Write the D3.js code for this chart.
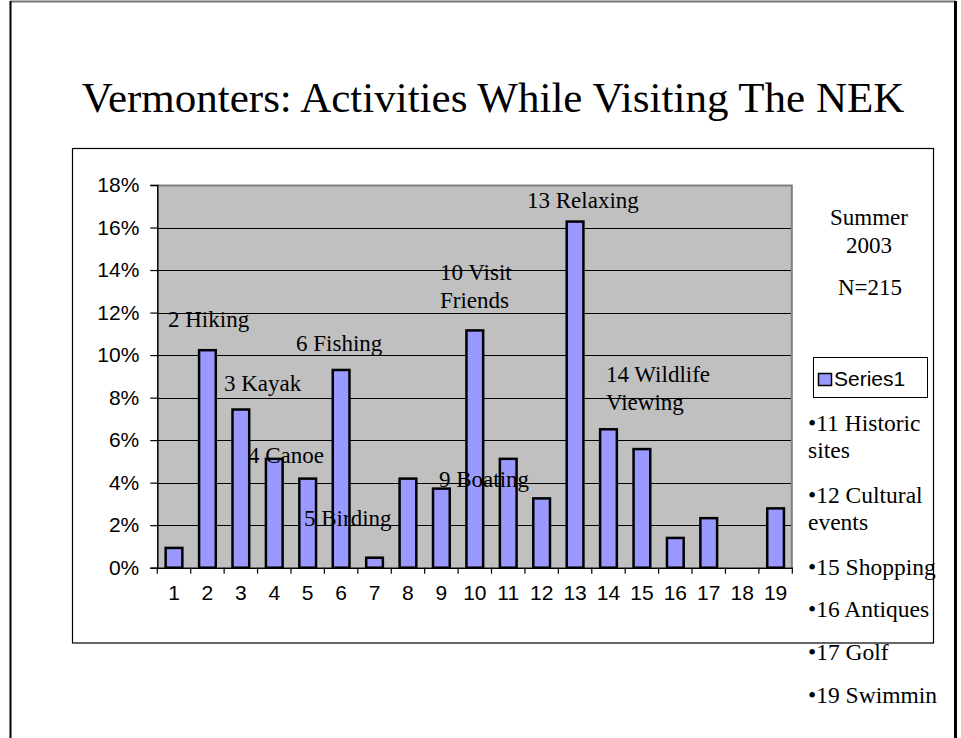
<!DOCTYPE html>
<html>
<head>
<meta charset="utf-8">
<script src="https://cdn.jsdelivr.net/npm/d3@7"></script>
<style>
  html, body { margin: 0; padding: 0; background: #ffffff; }
  svg { display: block; }
</style>
</head>
<body>
<svg id="chart" width="961" height="738"></svg>
<script>
// ---------------- DATA ----------------
const categories = ["1","2","3","4","5","6","7","8","9","10","11","12","13","14","15","16","17","18","19"];
const values = [0.93, 10.23, 7.44, 5.12, 4.19, 9.30, 0.47, 4.19, 3.72, 11.16, 5.12, 3.26, 16.28, 6.51, 5.58, 1.40, 2.33, 0, 2.79];
const yTickValues = [0, 2, 4, 6, 8, 10, 12, 14, 16, 18];
const seriesName = "Series1";
const titleText = "Vermonters: Activities While Visiting The NEK";
const annotationTexts = [["2 Hiking"], ["3 Kayak"], ["4 Canoe"], ["5 Birding"], ["6 Fishing"], ["9 Boating"], ["10 Visit", "Friends"], ["13 Relaxing"], ["14 Wildlife", "Viewing"]];
const noteTexts = ["Summer", "2003", "N=215"];
const sideListTexts = [["•11 Historic", "sites"], ["•12 Cultural", "events"], ["•15 Shopping"], ["•16 Antiques"], ["•17 Golf"], ["•19 Swimmin"]];

// ---------------- LAYOUT ----------------
const plot = { left: 157.3, right: 792.3, top: 185, bottom: 567.7 };
const annotationPos = [[168, 327], [224, 391], [248, 463], [304, 526], [296, 351], [439, 487], [440, 280], [527, 208], [606, 382]];
const notePos = [[869, 225], [869, 253], [870, 295]];
const sideListPos = [[808, 431], [808, 503], [808, 575], [808, 617], [808, 660], [808, 703]];
const serif = "'Liberation Serif', 'Times New Roman', serif";
const sans = "'Liberation Sans', Arial, sans-serif";

const svg = d3.select("#chart");

// outer slide border
svg.append("line").attr("x1", 10).attr("x2", 956).attr("y1", 1.5).attr("y2", 1.5).attr("stroke", "#777").attr("stroke-width", 2);
svg.append("line").attr("x1", 10.5).attr("x2", 10.5).attr("y1", 1).attr("y2", 738).attr("stroke", "#000").attr("stroke-width", 2);
svg.append("line").attr("x1", 955.5).attr("x2", 955.5).attr("y1", 1).attr("y2", 738).attr("stroke", "#000").attr("stroke-width", 3);

// title
svg.append("text").attr("x", 493).attr("y", 112).attr("text-anchor", "middle")
  .attr("font-family", serif).attr("font-size", 43).attr("fill", "#000").text(titleText);

// chart frame
svg.append("rect").attr("x", 72.5).attr("y", 148.5).attr("width", 861).attr("height", 494.5)
  .attr("fill", "#fff").attr("stroke", "#000").attr("stroke-width", 1.2);

// scales
const x = d3.scaleBand().domain(categories).range([plot.left, plot.right]).paddingInner(0.5).paddingOuter(0.25);
const y = d3.scaleLinear().domain([0, 18]).range([plot.bottom, plot.top]);

// plot background
svg.append("rect").attr("x", plot.left).attr("y", plot.top)
  .attr("width", plot.right - plot.left).attr("height", plot.bottom - plot.top).attr("fill", "#c0c0c0");

// gridlines
svg.append("g").selectAll("line").data(yTickValues.filter(d => d > 0 && d < 18)).join("line")
  .attr("x1", plot.left).attr("x2", plot.right)
  .attr("y1", d => Math.round(y(d)) + 0.5).attr("y2", d => Math.round(y(d)) + 0.5)
  .attr("stroke", "#000").attr("stroke-width", 1);

// plot border top/right (gray)
svg.append("path")
  .attr("d", `M${plot.left},${plot.top + 0.5}H${plot.right - 0.5}V${plot.bottom}`)
  .attr("fill", "none").attr("stroke", "#808080").attr("stroke-width", 2);

// bars
svg.append("g").selectAll("rect").data(values.map((v, i) => ({ c: categories[i], v }))).join("rect")
  .filter(d => d.v > 0)
  .attr("x", d => x(d.c)).attr("y", d => y(d.v))
  .attr("width", x.bandwidth()).attr("height", d => y(0) - y(d.v))
  .attr("fill", "#9999ff").attr("stroke", "#000").attr("stroke-width", 2.5);

// y axis
const yAxis = d3.axisLeft(y).tickValues(yTickValues).tickFormat(d => d + "%").tickSize(7).tickPadding(11);
const gy = svg.append("g").attr("transform", `translate(${plot.left},0)`).call(yAxis);
gy.select(".domain").attr("stroke", "#000").attr("stroke-width", 1.5);
gy.selectAll(".tick line").attr("stroke", "#000").attr("stroke-width", 1.2);
gy.selectAll("text").attr("font-family", sans).attr("font-size", 21).attr("fill", "#000");

// x axis with ticks at band boundaries
const xAxis = d3.axisBottom(x).tickSize(0).tickPadding(17);
const gx = svg.append("g").attr("transform", `translate(0,${plot.bottom})`).call(xAxis);
gx.select(".domain").attr("stroke", "#000").attr("stroke-width", 1.5);
gx.selectAll("text").attr("font-family", sans).attr("font-size", 21).attr("fill", "#000");
const boundaries = categories.map((c, i) => plot.left + i * x.step());
boundaries.push(plot.right);
svg.append("g").selectAll("line").data(boundaries).join("line")
  .attr("x1", d => d).attr("x2", d => d).attr("y1", plot.bottom).attr("y2", plot.bottom + 6)
  .attr("stroke", "#000").attr("stroke-width", 1.2);

// annotations
annotationTexts.forEach((lines, i) => {
  const t = svg.append("text").attr("font-family", serif).attr("font-size", 23).attr("fill", "#000")
    .attr("x", annotationPos[i][0]).attr("y", annotationPos[i][1]);
  lines.forEach((ln, j) => t.append("tspan").attr("x", annotationPos[i][0]).attr("dy", j === 0 ? 0 : 28).text(ln));
});

// notes on right
noteTexts.forEach((s, i) => {
  svg.append("text").attr("x", notePos[i][0]).attr("y", notePos[i][1]).attr("text-anchor", "middle")
    .attr("font-family", serif).attr("font-size", 23).attr("fill", "#000").text(s);
});

// legend
const lg = svg.append("g");
lg.append("rect").attr("x", 813.5).attr("y", 357.5).attr("width", 114).attr("height", 40)
  .attr("fill", "#fff").attr("stroke", "#000").attr("stroke-width", 1);
lg.append("rect").attr("x", 818.5).attr("y", 373.5).attr("width", 13).attr("height", 12)
  .attr("fill", "#9999ff").attr("stroke", "#000").attr("stroke-width", 1.5);
lg.append("text").attr("x", 834).attr("y", 386).attr("font-family", sans).attr("font-size", 21)
  .attr("fill", "#000").text(seriesName);

// side list
sideListTexts.forEach((lines, i) => {
  const t = svg.append("text").attr("font-family", serif).attr("font-size", 23.5).attr("fill", "#000")
    .attr("x", sideListPos[i][0]).attr("y", sideListPos[i][1]);
  lines.forEach((ln, j) => t.append("tspan").attr("x", sideListPos[i][0]).attr("dy", j === 0 ? 0 : 27).text(ln));
});
</script>
</body>
</html>
